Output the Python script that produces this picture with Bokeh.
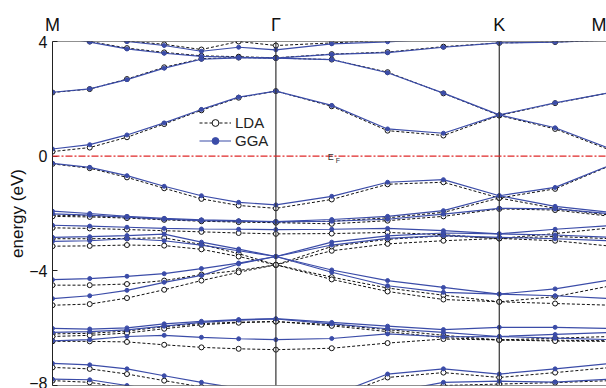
from bokeh.plotting import figure
from bokeh.models import Span, Label, Legend, LegendItem, FixedTicker, LinearAxis, Title
from bokeh.embed import file_html
from bokeh.resources import INLINE

# k-path: M -> Gamma -> K -> M (sampled points, marker positions)
kpath = [0, 1/6, 2/6, 3/6, 4/6, 5/6, 1.0, 1.25, 1.5, 1.75, 2.0, 2.25, 2.5]
k_names = ["M", "\u0393", "K", "M"]
k_name_pos = [0.0, 1.0, 2.0, 2.478]
y_ticks = [-8, -4, 0, 4]

# GGA bands (eV)
gga_c4 = [4.40, 4.20, 4.00, 3.86, 3.66, 3.80, 3.71, 3.92, 3.99, 4.10, 4.20, 4.20, 4.25]
gga_c3 = [4.20, 3.98, 3.74, 3.59, 3.48, 3.45, 3.42, 3.55, 3.61, 3.80, 3.95, 3.98, 4.05]
gga_c2 = [2.23, 2.35, 2.67, 3.07, 3.38, 3.43, 3.42, 3.37, 2.91, 2.20, 1.44, 0.99, 0.25]
gga_c1 = [0.25, 0.40, 0.74, 1.16, 1.63, 2.06, 2.27, 1.77, 0.95, 0.80, 1.44, 1.86, 2.22]
gga_v1 = [-0.25, -0.39, -0.68, -1.05, -1.38, -1.61, -1.70, -1.40, -0.91, -0.82, -1.38, -1.09, -0.30]
gga_v2 = [-1.92, -2.00, -2.10, -2.17, -2.22, -2.25, -2.28, -2.21, -2.10, -1.90, -1.38, -1.75, -1.96]
gga_v3 = [-2.01, -2.06, -2.13, -2.20, -2.25, -2.27, -2.29, -2.27, -2.20, -2.02, -1.82, -1.84, -2.01]
gga_v4 = [-2.41, -2.44, -2.48, -2.52, -2.54, -2.55, -2.56, -2.55, -2.52, -2.60, -2.71, -2.75, -2.83]
gga_v5 = [-2.83, -2.81, -2.77, -2.72, -3.00, -3.24, -3.50, -3.97, -4.34, -4.58, -4.81, -4.63, -4.31]
gga_v6 = [-2.97, -2.95, -2.88, -2.95, -3.10, -3.30, -3.50, -4.05, -4.52, -4.75, -4.81, -4.87, -4.97]
gga_v7 = [-4.31, -4.27, -4.19, -4.10, -3.92, -3.73, -3.50, -3.10, -2.87, -2.77, -2.83, -2.88, -2.95]
gga_v8 = [-4.97, -4.87, -4.68, -4.40, -4.16, -3.76, -3.50, -3.00, -2.78, -2.68, -2.71, -2.55, -2.42]
gga_v9 = [-6.01, -6.03, -5.99, -5.85, -5.76, -5.70, -5.67, -5.80, -5.93, -6.05, -5.97, -5.97, -6.01]
gga_v10 = [-6.15, -6.12, -6.06, -5.93, -5.80, -5.72, -5.68, -5.85, -6.02, -6.15, -6.29, -6.22, -6.15]
gga_v11 = [-6.44, -6.40, -6.29, -6.25, -6.32, -6.37, -6.40, -6.36, -6.20, -6.30, -6.29, -6.35, -6.40]
gga_v12 = [-7.23, -7.28, -7.42, -7.66, -7.89, -8.10, -8.40, -8.35, -7.60, -7.42, -7.60, -7.42, -7.23]
gga_v13 = [-7.78, -7.80, -8.00, -8.20, -8.40, -8.55, -8.60, -8.50, -8.25, -7.89, -7.85, -7.88, -7.78]

# LDA bands (eV)
lda_c4 = [4.40, 4.22, 4.02, 3.90, 3.72, 4.00, 3.86, 3.95, 4.05, 4.15, 4.20, 4.20, 4.25]
lda_c3 = [4.22, 4.00, 3.77, 3.62, 3.50, 3.47, 3.43, 3.56, 3.63, 3.82, 3.95, 3.98, 4.05]
lda_c2 = [2.22, 2.34, 2.69, 3.10, 3.40, 3.44, 3.42, 3.37, 2.93, 2.19, 1.42, 0.95, 0.20]
lda_c1 = [0.16, 0.30, 0.66, 1.12, 1.60, 2.04, 2.27, 1.74, 0.89, 0.72, 1.42, 1.85, 2.22]
lda_v1 = [-0.27, -0.42, -0.74, -1.12, -1.49, -1.72, -1.82, -1.51, -0.98, -0.91, -1.46, -1.14, -0.32]
lda_v2 = [-2.06, -2.08, -2.13, -2.20, -2.25, -2.28, -2.30, -2.27, -2.15, -1.96, -1.46, -1.82, -2.06]
lda_v3 = [-2.10, -2.12, -2.16, -2.22, -2.27, -2.30, -2.32, -2.36, -2.25, -2.10, -1.84, -1.88, -2.10]
lda_v4 = [-2.50, -2.52, -2.56, -2.60, -2.64, -2.68, -2.71, -2.70, -2.66, -2.74, -2.87, -2.70, -2.50]
lda_v5 = [-2.88, -2.88, -2.87, -2.85, -3.08, -3.40, -3.79, -4.22, -4.60, -4.85, -5.08, -4.90, -4.52]
lda_v6 = [-3.14, -3.13, -3.10, -3.12, -3.25, -3.50, -3.79, -4.30, -4.72, -5.00, -5.08, -5.14, -5.20]
lda_v7 = [-4.50, -4.50, -4.46, -4.34, -4.13, -3.99, -3.79, -3.30, -3.06, -2.95, -2.87, -2.95, -3.14]
lda_v8 = [-5.20, -5.16, -4.95, -4.66, -4.34, -4.05, -3.79, -3.15, -2.90, -2.78, -2.87, -2.80, -2.88]
lda_v9 = [-6.20, -6.18, -6.10, -5.95, -5.84, -5.79, -5.77, -5.88, -6.05, -6.25, -6.41, -6.35, -6.29]
lda_v10 = [-6.29, -6.25, -6.17, -6.02, -5.88, -5.81, -5.77, -5.92, -6.12, -6.33, -6.41, -6.42, -6.44]
lda_v11 = [-6.46, -6.46, -6.48, -6.58, -6.67, -6.72, -6.75, -6.70, -6.52, -6.38, -6.41, -6.45, -6.46]
lda_v12 = [-7.37, -7.42, -7.60, -7.83, -8.05, -8.25, -8.50, -8.45, -7.72, -7.55, -7.72, -7.55, -7.37]
lda_v13 = [-7.83, -7.89, -8.10, -8.30, -8.50, -8.62, -8.66, -8.55, -8.30, -8.00, -7.95, -7.90, -7.83]

gga_bands = [gga_c4, gga_c3, gga_c2, gga_c1, gga_v1, gga_v2, gga_v3, gga_v4, gga_v5,
             gga_v6, gga_v7, gga_v8, gga_v9, gga_v10, gga_v11, gga_v12, gga_v13]
lda_bands = [lda_c4, lda_c3, lda_c2, lda_c1, lda_v1, lda_v2, lda_v3, lda_v4, lda_v5,
             lda_v6, lda_v7, lda_v8, lda_v9, lda_v10, lda_v11, lda_v12, lda_v13]

GGA_COLOR = "#3b4ca8"

p = figure(width=606, height=388, x_range=(0, 2.48), y_range=(-8, 4),
           output_backend="svg", toolbar_location=None, x_axis_location=None,
           min_border_left=52, min_border_right=0, min_border_top=41, min_border_bottom=3)
p.outline_line_color = None
p.xgrid.visible = False
p.ygrid.visible = False
p.background_fill_color = "white"

# y axis
p.yaxis.ticker = FixedTicker(ticks=y_ticks)
p.yaxis.minor_tick_line_color = None
p.yaxis.major_tick_in = 5
p.yaxis.major_tick_out = 0
p.yaxis.axis_line_color = "#222222"
p.yaxis.major_tick_line_color = "#222222"
p.yaxis.major_label_text_font = "Liberation Sans"
p.yaxis.major_label_text_font_size = "16px"
p.yaxis.major_label_text_color = "#111111"
p.yaxis.major_label_standoff = 5

# y axis title (shifted up a little like the reference)
p.add_layout(Title(text="energy (eV)", align="center", offset=33, standoff=0,
                   text_font="Liberation Sans", text_font_style="normal",
                   text_font_size="17px", text_color="#111111"), "left")

# top axis carrying the high-symmetry point names
top_axis = LinearAxis(ticker=FixedTicker(ticks=k_name_pos),
                      major_label_overrides={k: n for k, n in zip(k_name_pos, k_names)},
                      axis_line_color=None, major_tick_line_color=None,
                      minor_tick_line_color=None, major_label_standoff=1,
                      major_label_text_font="Liberation Sans",
                      major_label_text_font_size="18px", major_label_text_color="#111111")
p.add_layout(top_axis, "above")

# frame top / bottom borders and symmetry lines
p.add_layout(Span(location=4, dimension="width", line_color="#222222", line_width=1))
p.add_layout(Span(location=-8, dimension="width", line_color="#222222", line_width=1))
for kp in k_name_pos[1:3]:
    p.add_layout(Span(location=kp, dimension="height", line_color="#333333", line_width=1.2))

# Fermi level
p.add_layout(Span(location=0, dimension="width", line_color="#e02828", line_width=1.2,
                  line_dash="7 2 2 2"))

# LDA
lda_xs = [kpath] * len(lda_bands)
lda_ml = p.multi_line(lda_xs, lda_bands, line_color="#111111", line_width=1, line_dash="3 2")
lda_px = [k for b in lda_bands for k in kpath]
lda_py = [e for b in lda_bands for e in b]
lda_sc = p.scatter(lda_px, lda_py, marker="circle", size=5, line_color="#111111",
                   fill_color="white", line_width=1)

# GGA
gga_xs = [kpath] * len(gga_bands)
gga_ml = p.multi_line(gga_xs, gga_bands, line_color=GGA_COLOR, line_width=1.2)
gga_px = [k for b in gga_bands for k in kpath]
gga_py = [e for b in gga_bands for e in b]
gga_sc = p.scatter(gga_px, gga_py, marker="circle", size=4, line_color=GGA_COLOR,
                   fill_color=GGA_COLOR)

legend = Legend(items=[LegendItem(label="LDA", renderers=[lda_ml, lda_sc]),
                       LegendItem(label="GGA", renderers=[gga_ml, gga_sc])],
                location=(147, 236), border_line_color=None, background_fill_alpha=0,
                padding=0, margin=0, spacing=1, glyph_width=32, glyph_height=17,
                label_height=17, label_standoff=4, label_text_font="Liberation Sans",
                label_text_font_size="15px", label_text_color="#222222")
p.add_layout(legend)

# E_F label
p.add_layout(Label(x=1.2455, y=-0.04, text="E", text_align="center", text_baseline="alphabetic",
                   text_font="Liberation Sans", text_font_size="9px", text_color="#333333"))
p.add_layout(Label(x=1.277, y=-0.16, text="F", text_align="center", text_baseline="alphabetic",
                   text_font="Liberation Sans", text_font_size="7px", text_color="#333333"))

open("out.html", "w").write(file_html(p, INLINE))
